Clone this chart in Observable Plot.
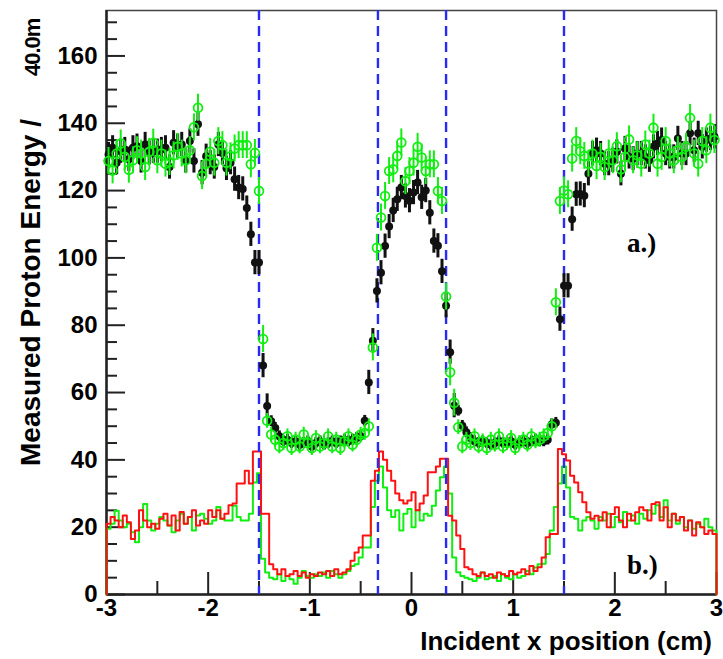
<!DOCTYPE html>
<html><head><meta charset="utf-8">
<script src="https://cdn.jsdelivr.net/npm/d3@7"></script>
<script src="https://cdn.jsdelivr.net/npm/@observablehq/plot@0.6"></script>
<style>body{margin:0;background:#fff}</style>
</head><body><div id="chart"></div>
<script>
// ---- binning ----
const binStart = -3, binWidth = 0.04;

// ---- a.) black points: measured proton energy per bin ----
const blackE = [
130.7,132.7,128.3,131.7,132.2,129.3,132.7,133.2,128.8,133.7,
131.2,131.7,131.7,132.2,132.7,127,134.2,133.2,133.7,128.8,
134.7,128.8,139.7,125.3,130.2,128.3,127,133.7,131.2,126.6,
128.3,123.4,120.9,120.5,114.8,107,98.6,98.6,68,56,51.5,49.5,
47,45.5,46,45,45.5,44.5,45,45.5,44,45,45.5,44.5,45,45.5,45,45.5,46,45.5,46,46.5,47,
51.6,63,75.4,90.2,95.6,103.5,109.3,114.1,117.4,120.9,118.4,117,119.4,122.4,118,120,113.4,105,103.6,96,85.8,72,56.1,54.6,50.1,48.2,
46.5,45.5,45,45.5,45,44.5,45,45.5,45,45,45.5,44.5,45,45.5,45,45.5,46,45.5,45.5,46,
50.6,51,81.8,91.7,91.7,111.5,118.9,
119,118.5,125,131,132,131,128,128,129,131.5,125,132.5,130,129.5,131,131,130,129,133,134,135,131,130,130,135.5,131,131,137,132,137,133,135,135.5,136
];
// ---- a.) green points ----
const greenE = [
128.8,126,131,134,130,126.2,129,132,131,127,131.5,134.2,129,131,128,128.5,130.5,133,131,129,132,138.8,144.6,124.3,128,131.5,128.3,134.7,133.5,128.3,
130.2,132.5,133.5,133.5,133.5,127.8,131.2,119.9,75.9,51.6,47.5,46,
44,45,47,43.5,46,44,47.5,45,43.5,46.5,44,45,47,44,46,43.5,45.5,47,44.5,46,47.5,
48,50,73.4,103,112,118.4,125.8,126.3,130.3,134.3,122.8,125.8,128.3,133,129.8,125.8,127.8,127.8,119.9,116.9,88.5,66,57,49.7,44,46,
45,47,44,45.5,43.5,46,44.5,47,44,45,46.5,43.5,45,46,44.5,47,45.5,46,47,48,
50,86.8,116.9,120,118.9,129.5,134.7,131.7,130.3,128,131,127.3,130,127,131,129,133.2,126.3,130,135.2,129,130.5,128,133.7,131,138.7,128,130,134.7,131,129,132,130,133,141.6,131,128,134.7,132,138.7,135
];
// ---- b.) red histogram ----
const redH = [
21,23,22,20,23.5,21.5,16.5,19,25,22,20,21,19.5,22.5,24,20.5,23.5,19,24.5,21,23,25,20.5,22,21,25,23,25,22.5,24,
26.5,27,33,33,36.8,33,42.5,42.5,24,24,
9,7.5,6,7.5,5.5,6,7,5.5,6.5,5,6,5.5,6.5,6,7,5.5,7.5,6,
6.5,7.5,10,12.5,14,17.5,17.5,33.8,36.8,42.5,
40,36.8,33.8,30,28,27,27.9,30.4,25,27,29.4,36.3,36.3,38,40.3,40.3,23.4,22,17.5,13.5,8.1,7.5,
6,5.5,6.5,5.5,6,5,6.5,6,5.5,7,6,6.5,7.5,6,8.5,7,8.1,
11,17,18,18,43.2,41.7,39.8,35.3,33.3,30.4,27.4,24.4,22.5,23.4,
22,24.4,20,23.9,25.9,22,20,24,22,24.4,25.9,25,22,26.9,27.4,22,25.9,20,24,22,23,19,22,17.5,21.5,20,18,19,18
];
// ---- b.) green histogram ----
const greenH = [
19.5,21,24.9,22,20,21,18.5,15.5,20,26.9,22,19,21,23,22,20.5,18.5,22,24,21,23,19,23.5,24,22.5,21,22,26,22.5,22,
22,26.4,23,22,22,24,33.3,36,10.6,6.5,
5,4.5,6,4,5.5,4.5,3.2,5,7,5.5,5,6,5.5,6.5,5,7,6,5,
6,7,8.5,9,11,14,14,26,33.8,38,
31.8,25,23,25,19,24,25.4,20,25,22,24,23.4,26.4,30.9,34.8,38,30,11,6.6,5.5,5,4.5,
4,5,6.5,4.5,5,5.5,4,6,5,4.5,6,5,5.5,7,6,8,9,
9.1,12,19,26,33,38,31.8,23,22.5,19,22,23,22,19.5,
23,22,24,20,23,21.5,24.5,22,23.5,21,24,22.5,25,24,26.5,23,28,22,24,21,23,20,22,19.5,21,20,22.5,20,19
];
// ---- reference lines and ticks ----
const dashX = [-1.5, -0.33, 0.34, 1.5];
const xTickLabels = [-3, -2, -1, 0, 1, 2, 3];
const xMinorTicks = [-2.5, -1.5, -0.5, 0.5, 1.5, 2.5];
const yTickLabels = [0, 20, 40, 60, 80, 100, 120, 140, 160];
const yMinorTicks = [5,10,15,25,30,35,45,50,55,65,70,75,85,90,95,105,110,115,125,130,135,145,150,155,165,170];
const panelLabels = [{t: "a.)", x: 2.12, y: 101.7}, {t: "b.)", x: 2.12, y: 6.2}];

// ---- layout ----
const W = 723, H = 659, mL = 106, mR = 7, mT = 10, mB = 65;
const xDom = [-3, 3], yDom = [0, 173.5];
const pxX = (W - mL - mR) / (xDom[1] - xDom[0]);
const pxY = (H - mT - mB) / (yDom[1] - yDom[0]);
const sans = "'Liberation Sans', Arial, Helvetica, sans-serif";

const center = k => binStart + binWidth * (k + 0.5);
const pts = (arr, hi, lo) => arr.map((v, k) => ({x: center(k), y: v, e: v > 55 ? hi : lo}));
const steps = arr => {
  const s = [{x: binStart, y: 0}];
  arr.forEach((v, k) => s.push({x: binStart + binWidth * k, y: v}));
  s.push({x: binStart + binWidth * arr.length, y: arr[arr.length - 1]});
  s.push({x: binStart + binWidth * arr.length, y: 0});
  return s;
};
const blackPts = pts(blackE, 3.6, 1.6);
const greenPts = pts(greenE, 4, 2.2);

const chart = Plot.plot({
  width: W, height: H,
  marginLeft: mL, marginRight: mR, marginTop: mT, marginBottom: mB,
  style: {fontFamily: sans, color: "black", background: "white"},
  x: {domain: xDom},
  y: {domain: yDom},
  marks: [
    Plot.frame({stroke: "#444", strokeWidth: 1.5}),
    // inward ticks
    Plot.ruleY(yTickLabels, {y: d => d, x1: -3, x2: -3 + 19 / pxX, stroke: "#222", strokeWidth: 2}),
    Plot.ruleY(yMinorTicks, {y: d => d, x1: -3, x2: -3 + 11 / pxX, stroke: "#222", strokeWidth: 2}),
    Plot.ruleX(xTickLabels, {x: d => d, y1: 0, y2: 22 / pxY, stroke: "#222", strokeWidth: 2}),
    Plot.ruleX(xMinorTicks, {x: d => d, y1: 0, y2: 13 / pxY, stroke: "#222", strokeWidth: 2}),
    Plot.ruleX([-3], {stroke: "#222", strokeWidth: 2.5}),
    Plot.ruleY([0], {stroke: "#222", strokeWidth: 2.5}),
    Plot.axisX({ticks: xTickLabels, tickSize: 0, tickPadding: 4, tickFormat: d => String(d), fontSize: 24, fontWeight: "bold", label: null}),
    Plot.axisY({ticks: yTickLabels, tickSize: 0, tickPadding: 9, tickFormat: d => String(d), fontSize: 24, fontWeight: "bold", label: null}),
    // b.) histograms
    Plot.line(steps(greenH), {x: "x", y: "y", curve: "step-after", stroke: "#11ee11", strokeWidth: 2}),
    Plot.line(steps(redH), {x: "x", y: "y", curve: "step-after", stroke: "#ff1111", strokeWidth: 2}),
    // boundaries
    Plot.ruleX(dashX, {stroke: "#2a2af5", strokeWidth: 2.4, strokeDasharray: "10,6"}),
    // a.) points
    Plot.ruleX(blackPts, {x: "x", y1: d => d.y - d.e, y2: d => d.y + d.e, stroke: "#111", strokeWidth: 3}),
    Plot.dot(blackPts, {x: "x", y: "y", r: 4, fill: "#111", stroke: "none"}),
    Plot.ruleX(greenPts, {x: "x", y1: d => d.y - d.e, y2: d => d.y + d.e, stroke: "#11ee11", strokeWidth: 2}),
    Plot.dot(greenPts, {x: "x", y: "y", r: 4.4, fill: "none", stroke: "#11ee11", strokeWidth: 1.8}),
    Plot.text(panelLabels, {x: "x", y: "y", text: "t", textAnchor: "start", lineAnchor: "bottom",
      fontSize: 27, fontWeight: "bold", fontFamily: "'Liberation Serif', 'Times New Roman', serif", fill: "black"})
  ]
});

const svg = d3.select(chart);
svg.append("text")
  .attr("transform", "translate(40,466) rotate(-90)")
  .attr("text-anchor", "start")
  .attr("font-family", sans).attr("font-weight", "bold").attr("font-size", 28).attr("fill", "black")
  .text("Measured Proton Energy /");
svg.append("text")
  .attr("transform", "translate(40,76) rotate(-90)")
  .attr("text-anchor", "start")
  .attr("font-family", sans).attr("font-weight", "bold").attr("font-size", 22).attr("fill", "black")
  .attr("letter-spacing", -1)
  .text("40.0m");
svg.append("text")
  .attr("x", 712).attr("y", 650)
  .attr("text-anchor", "end")
  .attr("font-family", sans).attr("font-weight", "bold").attr("font-size", 26).attr("fill", "black")
  .text("Incident x position (cm)");

document.getElementById("chart").appendChild(chart);
</script>
</body></html>
